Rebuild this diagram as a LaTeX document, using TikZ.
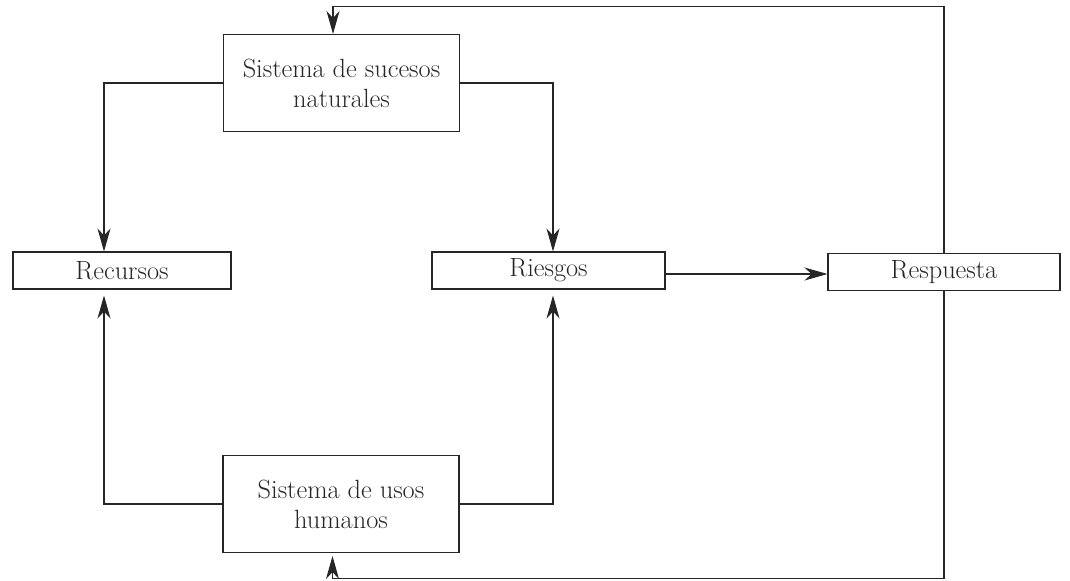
\documentclass[tikz,border=0pt]{standalone}
\usepackage{amsmath}
\usepackage{tikz}
\usetikzlibrary{arrows.meta}
\tikzstyle{bignode}=[draw,%
                     rectangle,%
                     align=center,%
                     font=\fontsize{15}{17}\selectfont,%
                     minimum width  = 4.72cm,%
                     minimum height = 1.94cm]
\tikzstyle{smallnode}=[draw,rectangle,font=\fontsize{15}{17}\selectfont,minimum height=0.74cm]

\begin{document}
\begin{tikzpicture}[>={Stealth[length=4.6mm,width=2.6mm,inset=1.4mm]},line width=0.6pt,color=black!85]
            \useasboundingbox (0,0) rectangle (21.4,-11.6);
            \node[bignode] (a) at (6.83,-1.66) {Sistema de sucesos\\naturales};
            \node[smallnode][minimum width=4.36cm] (b) at (2.44,-5.41) {Recursos};
            \node[smallnode][minimum width=4.66cm] (c) at (10.97,-5.41) {Riesgos};
            \node[smallnode][minimum width=4.64cm] (d) at (18.88,-5.44) {Respuesta};
            \node[bignode] (e) at (6.82,-10.08) {Sistema de usos\\humanos};
            \draw [->] (a.west) -| ([xshift=-0.36cm]b.north);
            \draw [->] (a.east) -| ([xshift=0.09cm]c.north);
            \draw [->,shorten >=0.12cm] (e.west) -| ([xshift=-0.36cm]b.south);
            \draw [->,shorten >=0.12cm] (e.east) -| ([xshift=0.09cm]c.south);
            \draw [->] ([yshift=-0.07cm]c.east) -- ([yshift=-0.07cm]c.east -| d.west);
            \draw [->] (d.north) |- ([xshift=-0.17cm,yshift=0.55cm]a.north) -- ([xshift=-0.17cm]a.north);
            \draw [->,shorten >=0.06cm] (d.south) |- ([xshift=-0.17cm,yshift=-0.51cm]e.south) -- ([xshift=-0.17cm]e.south);
  \end{tikzpicture}
\end{document}
